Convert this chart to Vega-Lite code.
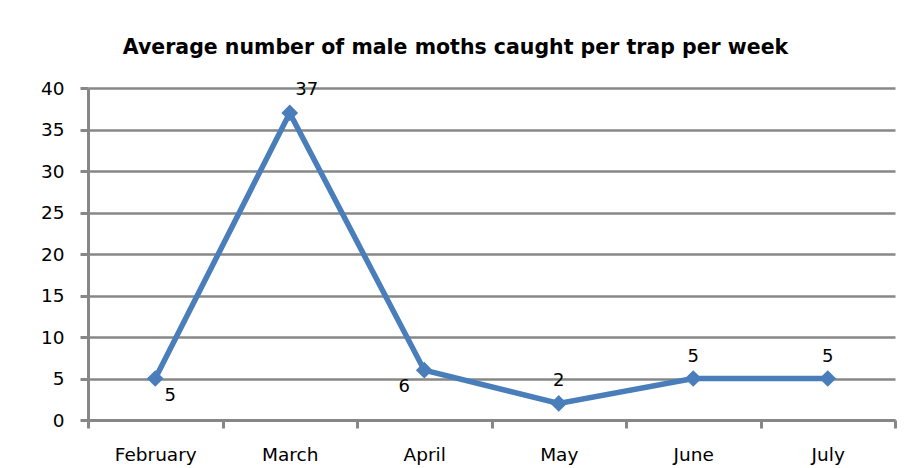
{
  "$schema": "https://vega.github.io/schema/vega-lite/v6.json",
  "width": 807,
  "height": 332,
  "autosize": {"type": "none"},
  "padding": {"left": 88, "top": 88, "right": 17, "bottom": 48},
  "background": "white",
  "title": {
    "text": "Average number of male moths caught per trap per week",
    "font": "DejaVu Sans",
    "fontSize": 20.5,
    "fontWeight": "bold",
    "color": "black",
    "anchor": "middle",
    "dx": -36,
    "offset": 21
  },
  "config": {
    "view": {"stroke": null},
    "axis": {
      "labelFont": "DejaVu Sans",
      "labelFontSize": 18.5,
      "labelColor": "black",
      "domainColor": "#878787",
      "domainWidth": 3,
      "tickColor": "#878787",
      "tickWidth": 3,
      "tickSize": 8,
      "gridColor": "#878787",
      "gridWidth": 2.5,
      "gridOpacity": 1,
      "title": null
    }
  },
  "data": {
    "values": [
      {"month": "February", "moths": 5},
      {"month": "March", "moths": 37},
      {"month": "April", "moths": 6},
      {"month": "May", "moths": 2},
      {"month": "June", "moths": 5},
      {"month": "July", "moths": 5}
    ]
  },
  "encoding": {
    "x": {
      "field": "month",
      "type": "nominal",
      "sort": null,
      "scale": {"paddingInner": 0, "paddingOuter": 0},
      "axis": {"labelAngle": 0, "tickBand": "extent", "labelPadding": 17, "grid": false}
    },
    "y": {
      "field": "moths",
      "type": "quantitative",
      "scale": {"domain": [0, 40], "nice": false},
      "axis": {"values": [0, 5, 10, 15, 20, 25, 30, 35, 40], "labelPadding": 16, "grid": true}
    }
  },
  "layer": [
    {"mark": {"type": "line", "color": "#4A7EBB", "strokeWidth": 5.5}},
    {"mark": {"type": "point", "shape": "diamond", "filled": true, "size": 280, "color": "#4A7EBB", "opacity": 1}},
    {
      "transform": [{"filter": "datum.month === 'February'"}],
      "mark": {"type": "text", "font": "DejaVu Sans", "fontSize": 18, "color": "black", "dx": 15, "dy": 17},
      "encoding": {"text": {"field": "moths"}}
    },
    {
      "transform": [{"filter": "datum.month === 'March'"}],
      "mark": {"type": "text", "font": "DejaVu Sans", "fontSize": 18, "color": "black", "dx": 17, "dy": -23},
      "encoding": {"text": {"field": "moths"}}
    },
    {
      "transform": [{"filter": "datum.month === 'April'"}],
      "mark": {"type": "text", "font": "DejaVu Sans", "fontSize": 18, "color": "black", "dx": -20, "dy": 17},
      "encoding": {"text": {"field": "moths"}}
    },
    {
      "transform": [{"filter": "datum.month === 'May' || datum.month === 'June' || datum.month === 'July'"}],
      "mark": {"type": "text", "font": "DejaVu Sans", "fontSize": 18, "color": "black", "dy": -22},
      "encoding": {"text": {"field": "moths"}}
    }
  ]
}
